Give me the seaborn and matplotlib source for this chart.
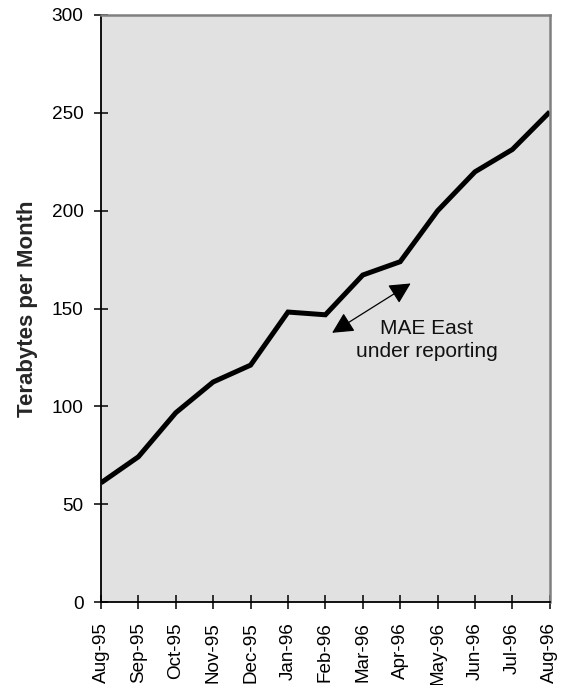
import matplotlib
matplotlib.use("Agg")
import matplotlib.pyplot as plt
import seaborn as sns
import pandas as pd

# Monthly traffic volume
months = ["Aug-95", "Sep-95", "Oct-95", "Nov-95", "Dec-95", "Jan-96", "Feb-96",
          "Mar-96", "Apr-96", "May-96", "Jun-96", "Jul-96", "Aug-96"]
terabytes = [61.0, 74.3, 96.8, 112.5, 121.1, 148.2, 146.8,
             167.1, 173.9, 199.9, 219.8, 231.2, 250.4]
y_ticks = [0, 50, 100, 150, 200, 250, 300]

df = pd.DataFrame({"idx": range(len(months)), "month": months, "tb": terabytes})

sns.set_theme(style="white")
plt.rcParams["font.family"] = ["Liberation Sans", "DejaVu Sans"]

fig = plt.figure(figsize=(5.61, 6.85), dpi=100)
ax = fig.add_axes([0.18, 0.1207, 0.800, 0.8578])
ax.set_facecolor("#e1e1e1")

sns.lineplot(data=df, x="idx", y="tb", ax=ax, color="black", linewidth=3.6,
             solid_joinstyle="miter", solid_capstyle="butt")

ax.set_xlim(0, len(months) - 1)
ax.set_ylim(0, 300)
ax.set_xticks(df["idx"])
ax.set_xticklabels(months, rotation=90, fontsize=13.6)
ax.set_yticks(y_ticks)
ax.set_yticklabels([str(v) for v in y_ticks], fontsize=13.7)
ax.tick_params(axis="both", direction="inout", length=10, width=1.1,
               color="black", labelcolor="black", bottom=True, left=True)
ax.tick_params(axis="x", pad=9.2)
ax.tick_params(axis="y", pad=7.5)
ax.set_xlabel("")
ax.set_ylabel("Terabytes per Month", fontsize=16, fontweight="bold",
              labelpad=10)

for side in ("left", "bottom"):
    ax.spines[side].set_color("black")
    ax.spines[side].set_linewidth(1.3)
for side in ("top", "right"):
    ax.spines[side].set_color("#808080")
    ax.spines[side].set_linewidth(1.8)

# Note about the under-reported exchange point
ax.annotate("", xy=(6.18, 137.6), xytext=(8.28, 162.8),
            arrowprops=dict(arrowstyle="<|-|>,head_length=1.08,head_width=0.55",
                            color="black", lw=0.9, shrinkA=0, shrinkB=0))
ax.text(8.71, 133.9, "MAE East\nunder reporting", ha="center", va="center",
        fontsize=15, linespacing=1.3, color="#111111")

fig.savefig("out.png", dpi=100)
